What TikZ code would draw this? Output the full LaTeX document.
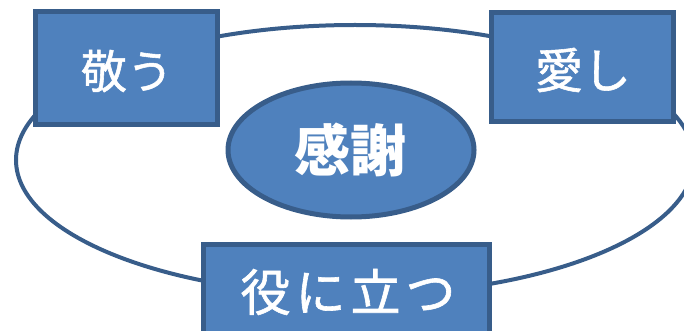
\documentclass[tikz,border=0pt]{standalone}
\usepackage{fontspec}
\newfontfamily\jpfont{Noto Sans CJK JP}
\newfontfamily\jpfontb[FakeBold=1.2]{Noto Sans CJK JP}
\usetikzlibrary{shapes.geometric}
\definecolor{boxfill}{HTML}{4F81BD}
\definecolor{boxline}{HTML}{385D8A}
\tikzset{
  box/.style={draw=boxline, line width=5pt, fill=boxfill, rectangle, inner sep=0pt},
  ring/.style={draw=boxline, line width=4pt, ellipse, inner sep=0pt},
  core/.style={draw=boxline, line width=5pt, fill=boxfill, ellipse, inner sep=0pt},
  jtext/.style={text=white, inner sep=0pt}
}
\begin{document}
\begin{tikzpicture}[x=1pt,y=-1pt]
\useasboundingbox (0,0) rectangle (684,331);
\clip (0,0) rectangle (684,331);
\node[ring, minimum width=678pt, minimum height=270pt] (ring) at (355,160) {};
\node[box, minimum width=182pt, minimum height=113pt] (kei) at (126,68.5) {};
\node[jtext, font=\jpfontb\fontsize{46}{46}\selectfont] (keit) at (127,71) {敬う};
\node[box, minimum width=182pt, minimum height=109pt] (ai) at (582,67.5) {};
\node[jtext, font=\jpfontb\fontsize{48}{48}\selectfont] (ait) at (583,70) {愛し};
\node[box, minimum width=286pt, minimum height=120pt] (yaku) at (346,304) {};
\node[jtext, font=\jpfontb\fontsize{50}{50}\selectfont] (yakut) at (348,292) {役\hspace{5pt}に\hspace{5pt}立\hspace{5pt}つ};
\node[core, minimum width=246pt, minimum height=134pt] (kansha) at (351,150) {};
\node[jtext, font=\jpfont\bfseries\fontsize{56}{56}\selectfont] (kanshat) at (350,150) {感謝};
\end{tikzpicture}
\end{document}
